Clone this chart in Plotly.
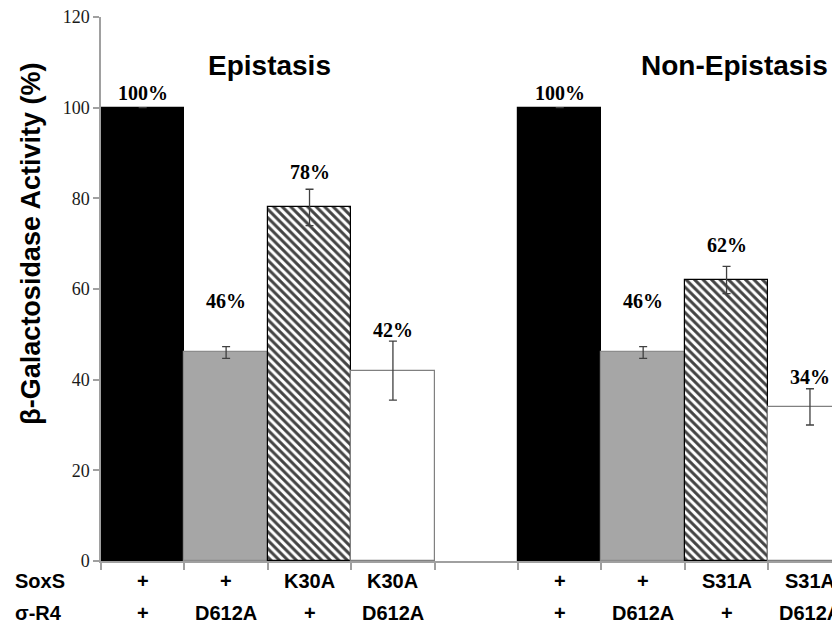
import plotly.graph_objects as go

# ---- data ----
positions = [0, 1, 2, 3, 5, 6, 7, 8]
values = [100, 46, 78, 42, 100, 46, 62, 34]
errors = [0, 1.3, 4, 6.5, 0, 1.3, 3, 4]
value_labels = ["100%", "46%", "78%", "42%", "100%", "46%", "62%", "34%"]
soxs_labels = ["+", "+", "K30A", "K30A", "+", "+", "S31A", "S31A"]
r4_labels = ["+", "D612A", "+", "D612A", "+", "D612A", "+", "D612A"]
group_titles = ["Epistasis", "Non-Epistasis"]
y_ticks = [0, 20, 40, 60, 80, 100, 120]

# ---- styles ----
fill_colors = ["#000000", "#a6a6a6", "#ffffff", "#ffffff",
               "#000000", "#a6a6a6", "#ffffff", "#ffffff"]
line_colors = ["#000000", "#8c8c8c", "#000000", "#808080",
               "#000000", "#8c8c8c", "#000000", "#808080"]
patterns = ["", "", "\\", "", "", "", "\\", ""]
label_shift = [2, 33, 4, -2, 2, 33, 8, -1]

err_draw = [e if e > 0 else None for e in errors]

fig = go.Figure()
fig.add_trace(go.Bar(
    x=positions, y=values, width=1.0,
    marker=dict(color=fill_colors,
                line=dict(color=line_colors, width=1.2),
                pattern=dict(shape=patterns, fgcolor="black", fgopacity=1,
                             size=6, solidity=0.5)),
    error_y=dict(type="data", array=err_draw, visible=True,
                 color="#404040", thickness=1.3, width=4),
    showlegend=False, hoverinfo="skip",
))

ann = []
for x, v, e, t, s in zip(positions, values, errors, value_labels, label_shift):
    ann.append(dict(x=x, y=v + e, xref="x", yref="y", text="<b>%s</b>" % t,
                    showarrow=False, yanchor="bottom", yshift=s,
                    font=dict(family="Liberation Serif, Times New Roman, serif",
                              size=20, color="black")))

xfont = dict(family="Liberation Sans, Arial, sans-serif", size=20, color="black")
for x, a, b in zip(positions, soxs_labels, r4_labels):
    ann.append(dict(x=x, y=-0.037, xref="x", yref="paper", text="<b>%s</b>" % a,
                    showarrow=False, yanchor="middle", font=xfont))
    ann.append(dict(x=x, y=-0.096, xref="x", yref="paper", text="<b>%s</b>" % b,
                    showarrow=False, yanchor="middle", font=xfont))
ann.append(dict(x=-0.119, y=-0.037, xref="paper", yref="paper", text="<b>SoxS</b>",
                showarrow=False, xanchor="left", yanchor="middle", font=xfont))
ann.append(dict(x=-0.119, y=-0.096, xref="paper", yref="paper", text="<b>σ-R4</b>",
                showarrow=False, xanchor="left", yanchor="middle", font=xfont))

tfont = dict(family="Liberation Sans, Arial, sans-serif", size=28, color="black")
ann.append(dict(x=1.52, y=0.943, xref="x", yref="paper", text="<b>%s</b>" % group_titles[0],
                showarrow=False, font=tfont))
ann.append(dict(x=7.1, y=0.943, xref="x", yref="paper", text="<b>%s</b>" % group_titles[1],
                showarrow=False, font=tfont))
ann.append(dict(x=-0.095, y=0.583, xref="paper", yref="paper",
                xanchor="center", yanchor="middle",
                text="<b>β-Galactosidase Activity (%)</b>", textangle=-90,
                showarrow=False, font=dict(family="Liberation Sans, Arial, sans-serif",
                                           size=27, color="black")))

fig.update_layout(
    width=832, height=625,
    margin=dict(l=93, r=0, t=9, b=72),
    paper_bgcolor="white", plot_bgcolor="white",
    bargap=0,
    annotations=ann,
    xaxis=dict(range=[-0.5, 8.36], showgrid=False, zeroline=False,
               showline=True, linecolor="#a0a0a0", linewidth=1.5,
               tickmode="array", tickvals=[i - 0.5 for i in range(10)],
               ticktext=[""] * 10, ticks="outside", ticklen=7,
               tickcolor="#a0a0a0", tickwidth=1.5),
    yaxis=dict(range=[0, 120], tickvals=y_ticks, showgrid=False, zeroline=False,
               showline=True, linecolor="#a0a0a0", linewidth=1.5,
               ticks="outside", ticklen=6, tickcolor="#a0a0a0", tickwidth=1.5,
               ticklabeloverflow="allow",
               tickfont=dict(family="Liberation Serif, Times New Roman, serif",
                             size=18, color="#1a1a1a")),
)

fig.write_html("out.html")
